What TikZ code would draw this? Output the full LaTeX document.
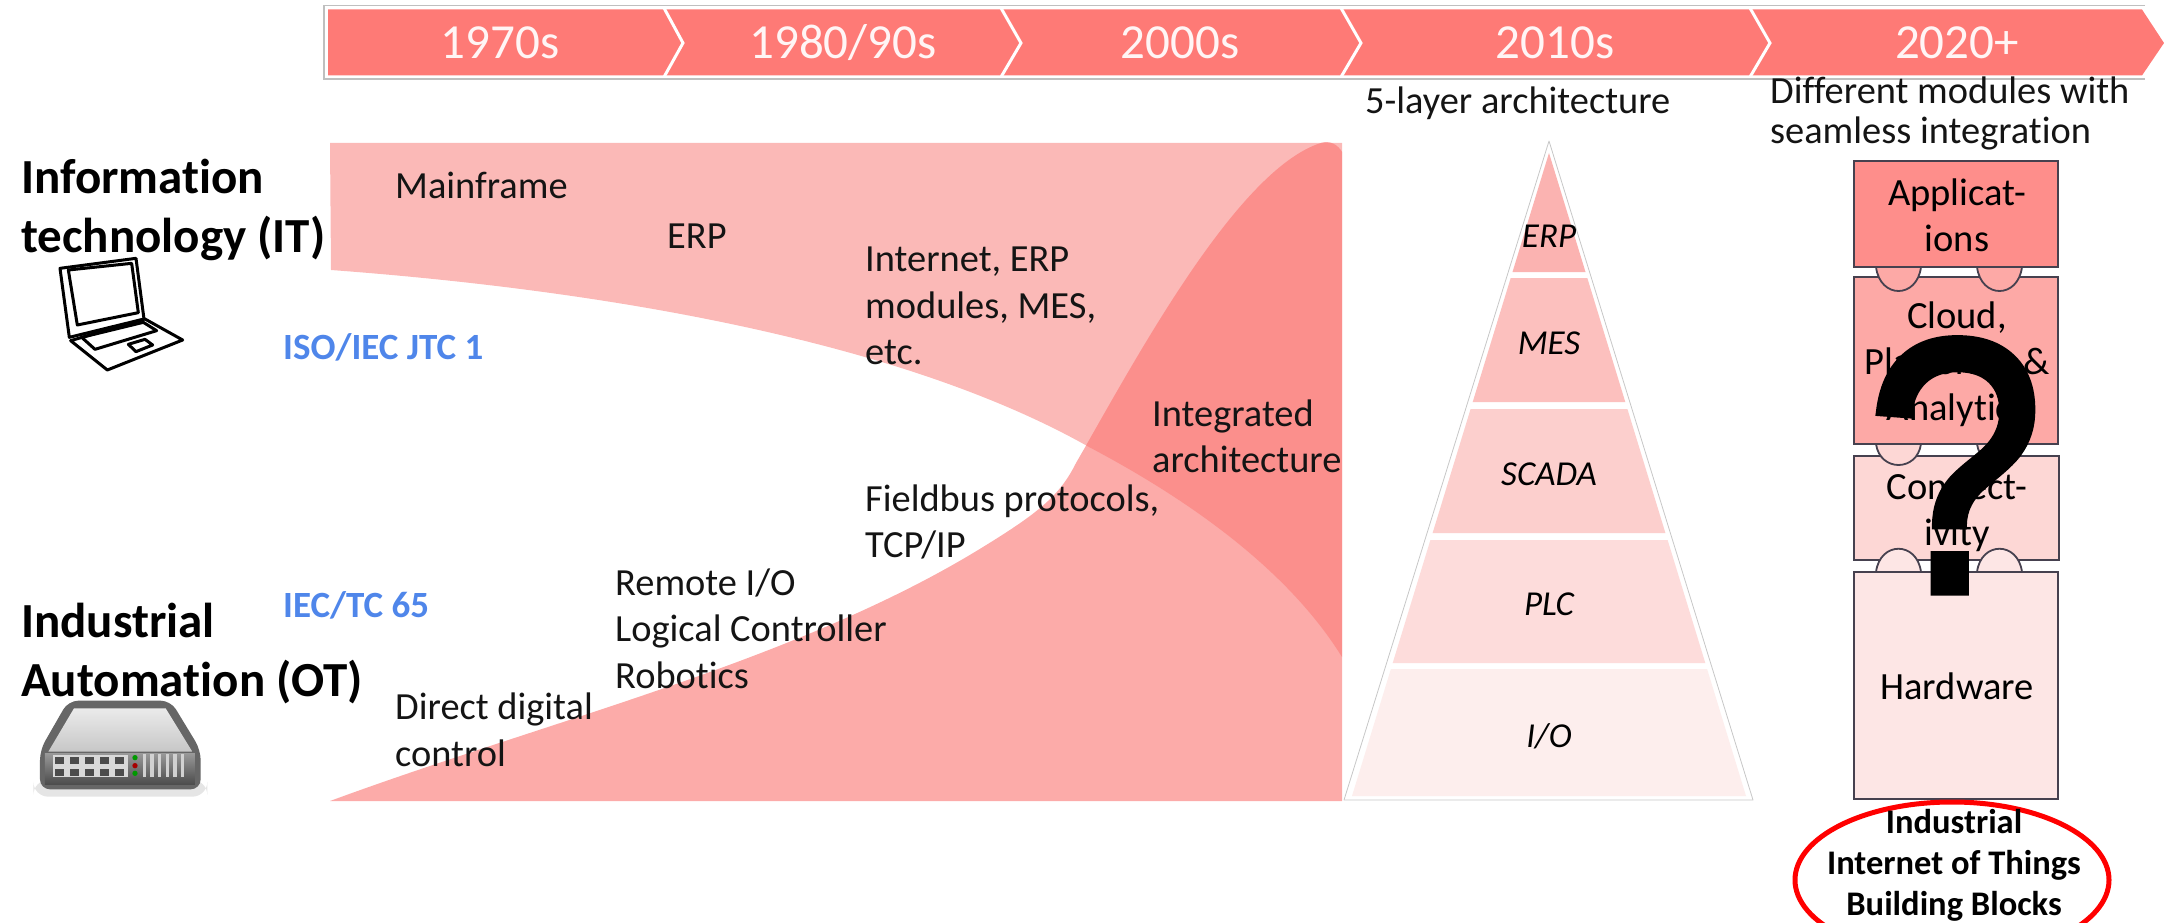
\documentclass[tikz,border=0pt]{standalone}
\usepackage{fontspec}
\setmainfont{Carlito}[Ligatures=NoCommon]
\newfontfamily\qmfont{Liberation Sans}[FakeBold=2.5]
\definecolor{bandc}{HTML}{FE7A76}
\definecolor{topc}{HTML}{FBB9B7}
\definecolor{botc}{HTML}{FCABA9}
\definecolor{ovc}{HTML}{FB8F8C}
\definecolor{stdc}{HTML}{4F86EA}
\definecolor{edgec}{HTML}{46414F}
\definecolor{lay1}{HTML}{FBB3B1}
\definecolor{lay2}{HTML}{FCC0BE}
\definecolor{lay3}{HTML}{FCCFCD}
\definecolor{lay4}{HTML}{FDDCDB}
\definecolor{lay5}{HTML}{FDEEED}
\definecolor{mod1}{HTML}{FE8E8B}
\definecolor{mod2}{HTML}{FDA9A6}
\definecolor{mod3}{HTML}{FDD7D5}
\definecolor{mod4}{HTML}{FDE6E5}
\newcommand{\TopBand}{(330,143) -- (1342,143) -- (1342,657) .. controls (1285,565) and (1180,495) .. (1089,447) .. controls (900,340) and (600,290) .. (331,270) -- cycle}
\newcommand{\BotBand}{(330,801) .. controls (550,720) and (800,660) .. (983,547) .. controls (1040,512) and (1060,495) .. (1076,463) .. controls (1130,370) and (1235,170) .. (1321,143) .. controls (1330,140) and (1338,145) .. (1342,152) -- (1342,801) -- cycle}
\tikzset{
 body/.style={font=\fontsize{38.4}{46.5}\selectfont,inner sep=0pt,anchor=base west,align=left,text=black!92},
 head/.style={font=\bfseries\fontsize{49}{59}\selectfont,inner sep=0pt,anchor=base west,align=left},
 std/.style={font=\bfseries\fontsize{37}{44}\selectfont,inner sep=0pt,anchor=base west,text=stdc},
 era/.style={font=\fontsize{49}{52}\selectfont,inner sep=0pt,anchor=base,text=white!96!red},
 lay/.style={font=\itshape\fontsize{35}{38}\selectfont,inner sep=0pt,anchor=center},
 blk/.style={draw=edgec,line width=2.2pt},
 tab/.style={draw=edgec,line width=1.8pt},
 mod/.style={font=\fontsize{38.5}{46}\selectfont,inner sep=0pt,anchor=base,align=center},
 sep/.style={draw=white,line width=3pt},
 iot/.style={font=\bfseries\fontsize{34.5}{41}\selectfont,inner sep=0pt,anchor=base,align=center},
 lapline/.style={draw=black,line width=3pt,line join=round},
}
\begin{document}
\begin{tikzpicture}[x=1pt,y=-1pt]
\useasboundingbox (0,0) rectangle (2164,923);
\clip (0,0) rectangle (2164,923);
% timeline
\draw[black!25,line width=1.6pt] (2145,5.5) -- (324,5.5) -- (324,79) -- (2145,79);
\fill[bandc] (328,9.5) -- (2142,9.5) -- (2164,43) -- (2142,75.5) -- (328,75.5) -- cycle;
\foreach \a/\b in {664/683,1001/1021,1341/1361,1750/1770}{
 \draw[sep] (\a,8) -- (\b,43) -- (\a,77);
}
\node[era] (e1) at (500,59) {1970s};
\node[era] (e2) at (843,59) {1980/90s};
\node[era] (e3) at (1180,59) {2000s};
\node[era] (e4) at (1555,59) {2010s};
\node[era] (e5) at (1957,59) {2020+};
% bands
\fill[topc] \TopBand;
\fill[botc] \BotBand;
\begin{scope}
 \clip \TopBand;
 \fill[ovc] \BotBand;
\end{scope}
% band labels
\node[body] (mf) at (395,198.5) {Mainframe};
\node[body] (erp) at (667,248.5) {ERP};
\node[body] (inet) at (865,364.5) {Internet, ERP\\modules, MES,\\etc.};
\node[body] (integ) at (1152,472.5) {Integrated\\architecture};
\node[body] (fb) at (865,557.5) {Fieldbus protocols,\\TCP/IP};
\node[body] (rem) at (615,688) {Remote I/O\\Logical Controller\\Robotics};
\node[body] (ddc) at (395,766) {Direct digital\\control};
% side labels
\node[head] (it) at (21,252) {Information\\technology (IT)};
\node[head] (ot) at (21,696) {Industrial\\Automation (OT)};
\node[std] (jtc) at (283,359) {ISO/IEC JTC 1};
\node[std] (tc) at (283,617) {IEC/TC 65};
% laptop icon
\begin{scope}[shift={(0,120)},scale=1/3]
 \draw[lapline] (180,445) -- (408,415) -- (432,597) -- (208,652) -- cycle;
 \draw[lapline] (205,450) -- (395,430) -- (415,578) -- (232,615) -- cycle;
 \draw[lapline] (212,662) -- (435,597) -- (548,660) -- (322,750) -- cycle;
 \draw[lapline] (245,652) -- (430,607) -- (470,632) -- (285,688) -- cycle;
 \draw[lapline] (385,673) -- (435,658) -- (458,675) -- (408,695) -- cycle;
\end{scope}
% server icon
\begin{scope}[shift={(0,580)},scale=1/3]
 \fill[black!10,rounded corners=15pt] (100,600) rectangle (622,650);
 \fill[black!60,rounded corners=10pt] (205,362) -- (512,362) -- (602,510) -- (602,628) -- (120,628) -- (120,510) -- cycle;
 \shade[bottom color=black!22,top color=black!8] (222,385) -- (497,385) -- (577,515) -- (145,515) -- cycle;
 \shade[top color=black!40,bottom color=black!70] (135,520) rectangle (585,612);
 \fill[black!15] (160,525) rectangle (385,592);
 \foreach \c in {0,1,2,3,4}{
  \fill[black!70] (165+45*\c,530) rectangle (192+45*\c,552);
  \fill[black!70] (165+45*\c,566) rectangle (192+45*\c,588);
 }
 \fill[green!60!black] (405,533) circle[radius=8];
 \fill[red!65!black] (405,557) circle[radius=8];
 \fill[green!60!black] (405,580) circle[radius=8];
 \foreach \c in {0,...,5}{
  \fill[black!18] (428+23*\c,522) rectangle (438+23*\c,592);
 }
\end{scope}
% pyramid
\draw[black!22,fill=white,line width=.8pt,line join=round] (1549,141) -- (1753,800) -- (1344,800) -- cycle;
\fill[lay1] (1549,153) -- (1585.5,272) -- (1512.5,272) -- cycle;
\fill[lay2] (1510.7,278) -- (1587.3,278) -- (1625.3,402) -- (1472.7,402) -- cycle;
\fill[lay3] (1470.6,409) -- (1627.4,409) -- (1665.4,533) -- (1432.6,533) -- cycle;
\fill[lay4] (1430.4,540) -- (1667.6,540) -- (1705.3,663) -- (1392.7,663) -- cycle;
\fill[lay5] (1390.9,669) -- (1707.1,669) -- (1746,796) -- (1352,796) -- cycle;
\node[lay] (p1) at (1549,236) {ERP};
\node[lay] (p2) at (1549,343) {MES};
\node[lay] (p3) at (1549,474) {SCADA};
\node[lay] (p4) at (1549,604) {PLC};
\node[lay] (p5) at (1549,736) {I/O};
\node[body] (five) at (1365,114) {5-layer architecture};
\node[body,font=\fontsize{38.4}{40}\selectfont] (diff) at (1770,144) {Different modules with\\seamless integration};
% building blocks
\path[blk,fill=mod2] (1854,277) rectangle (2058,444);
\foreach \a in {1876,1977}{
 \path[tab,fill=mod2] (\a,267) .. controls (\a+4,299) and (\a+41,299) .. (\a+45,267);
}
\path[blk,fill=mod1] (1854,161) rectangle (2058,267);
\path[blk,fill=mod3] (1854,456) rectangle (2059,560);
\foreach \a in {1876,1977}{
 \path[tab,fill=mod3] (\a,444) .. controls (\a+4,472) and (\a+41,472) .. (\a+45,444);
 \path[tab,fill=mod4] (\a,572) .. controls (\a+4,541) and (\a+41,541) .. (\a+45,572);
}
\draw[blk] (1854,444) -- (2058,444);
\path[blk,fill=mod4] (1854,572) rectangle (2058,799);
\node[mod] (m1) at (1957,251.5) {Applicat-\\ions};
\node[mod] (m2) at (1957,420) {Cloud,\\Platforms \&\\Analytics};
\node[mod] (m3) at (1957,545) {Connect-\\ivity};
\node[mod] (m4) at (1957,699) {Hardware};
% question mark
\node[font=\qmfont\fontsize{360}{360}\selectfont,inner sep=0pt,anchor=base,xscale=.88] (qm) at (1955,591) {?};
% IIoT
\draw[red,line width=5pt] (1952,880) ellipse[x radius=157,y radius=78];
\node[iot] (iiot) at (1954,915) {Industrial\\Internet of Things\\Building Blocks};
\end{tikzpicture}
\end{document}
